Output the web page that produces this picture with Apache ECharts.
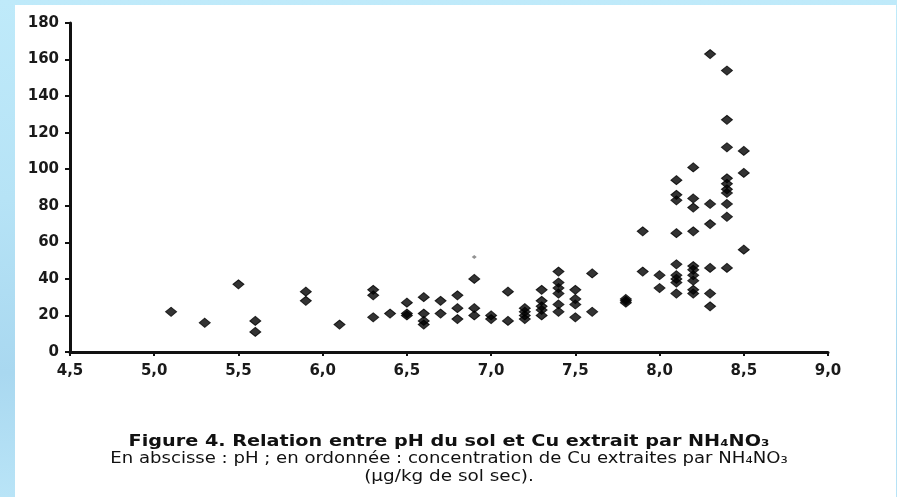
<!DOCTYPE html>
<html>
<head>
<meta charset="utf-8">
<script src="https://cdn.jsdelivr.net/npm/echarts@6/dist/echarts.min.js"></script>
<style>
  html, body { margin: 0; padding: 0; }
  body {
    width: 897px; height: 497px; overflow: hidden; position: relative;
    background: linear-gradient(180deg, #bfeafa 0%, #b6e3f6 40%, #a9d8f0 75%, #b9e4f7 100%);
  }
  #panel { position: absolute; left: 15px; top: 5px; width: 881px; height: 492px; background: #ffffff; }
  #chart { position: absolute; left: 0; top: 0; width: 897px; height: 497px; }
</style>
</head>
<body>
<div id="panel"></div>
<div id="chart"></div>
<script>
// pH values (x) and Cu concentrations (y), read point by point
const phValues = [
  5.1, 5.3, 5.5, 5.6, 5.6, 5.9, 5.9, 6.1,
  6.3, 6.3, 6.3, 6.4, 6.5, 6.5, 6.5,
  6.6, 6.6, 6.6, 6.6, 6.7, 6.7, 6.8, 6.8, 6.8,
  6.9, 6.9, 6.9, 7.0, 7.0, 7.1, 7.1,
  7.2, 7.2, 7.2, 7.2, 7.3, 7.3, 7.3, 7.3, 7.3,
  7.4, 7.4, 7.4, 7.4, 7.4, 7.4, 7.5, 7.5, 7.5, 7.5,
  7.6, 7.6, 7.8, 7.8, 7.8, 7.9, 7.9, 8.0, 8.0,
  8.1, 8.1, 8.1, 8.1, 8.1, 8.1, 8.1, 8.1, 8.1,
  8.2, 8.2, 8.2, 8.2, 8.2, 8.2, 8.2, 8.2, 8.2, 8.2,
  8.3, 8.3, 8.3, 8.3, 8.3, 8.3,
  8.4, 8.4, 8.4, 8.4, 8.4, 8.4, 8.4, 8.4, 8.4, 8.4,
  8.5, 8.5, 8.5
];
const cuValues = [
  22, 16, 37, 17, 11, 33, 28, 15,
  34, 31, 19, 21, 27, 21, 20,
  30, 21, 17, 15, 28, 21, 31, 24, 18,
  40, 24, 20, 20, 18, 33, 17,
  24, 22, 20, 18, 34, 28, 25, 23, 20,
  44, 38, 35, 32, 26, 22, 34, 29, 26, 19,
  43, 22, 29, 28, 27, 66, 44, 42, 35,
  94, 86, 83, 65, 48, 42, 40, 38, 32,
  101, 84, 79, 66, 47, 45, 42, 39, 34, 32,
  163, 81, 70, 46, 32, 25,
  154, 127, 112, 95, 92, 89, 87, 81, 74, 46,
  110, 98, 56
];
// one faint, smaller mark
const faintPh = [6.9];
const faintCu = [52];

const xTicks = { min: 4.5, max: 9.0, interval: 0.5 };
const yTicks = { min: 0, max: 180, interval: 20 };

const captionLine1 = 'Figure 4. Relation entre pH du sol et Cu extrait par NH\u2084NO\u2083';
const captionLine2 = 'En abscisse : pH ; en ordonnée : concentration de Cu extraites par NH\u2084NO\u2083';
const captionLine3 = '(µg/kg de sol sec).';

const mainData = phValues.map((p, i) => [p, cuValues[i]]);
const faintData = faintPh.map((p, i) => [p, faintCu[i]]);

const chart = echarts.init(document.getElementById('chart'), null, { renderer: 'canvas' });
const labelFont = { fontFamily: 'DejaVu Sans', fontWeight: 'bold', fontSize: 15, color: '#1a1a1a' };
const axisLineStyle = { color: '#111', width: 3 };

function caption(text, y, bold, sx) {
  return {
    type: 'text', x: 449, y: y, scaleX: sx, scaleY: 1,
    style: {
      text: text, x: 0, y: 0, align: 'center', verticalAlign: 'middle',
      fontFamily: 'DejaVu Sans', fontWeight: bold ? 'bold' : 'normal', fontSize: 16, fill: '#111'
    }
  };
}

chart.setOption({
  backgroundColor: 'transparent',
  animation: false,
  graphic: { elements: [
    caption(captionLine1, 442, true, 1.2),
    caption(captionLine2, 459, false, 1.13),
    caption(captionLine3, 477, false, 1.15)
  ] },
  grid: { left: 70, right: 69, top: 23, bottom: 145, containLabel: false },
  xAxis: {
    type: 'value',
    min: xTicks.min, max: xTicks.max, interval: xTicks.interval,
    axisLine: { show: true, onZero: false, lineStyle: axisLineStyle },
    axisTick: { show: true, inside: false, length: 4, lineStyle: { color: '#111', width: 2 } },
    splitLine: { show: false },
    axisLabel: Object.assign({ margin: 12, formatter: v => v.toFixed(1).replace('.', ',') }, labelFont)
  },
  yAxis: {
    type: 'value',
    min: yTicks.min, max: yTicks.max, interval: yTicks.interval,
    axisLine: { show: true, onZero: false, lineStyle: axisLineStyle },
    axisTick: { show: true, inside: false, length: 5, lineStyle: { color: '#111', width: 2 } },
    splitLine: { show: false },
    axisLabel: Object.assign({ margin: 11 }, labelFont)
  },
  series: [
    {
      type: 'scatter',
      data: mainData,
      symbol: 'diamond',
      symbolSize: [11, 9],
      itemStyle: { color: '#000000', borderColor: '#000000', borderWidth: 1 }
    },
    {
      type: 'scatter',
      data: faintData,
      symbol: 'diamond',
      symbolSize: [5, 4],
      itemStyle: { color: '#777' }
    }
  ]
});
</script>
</body>
</html>
